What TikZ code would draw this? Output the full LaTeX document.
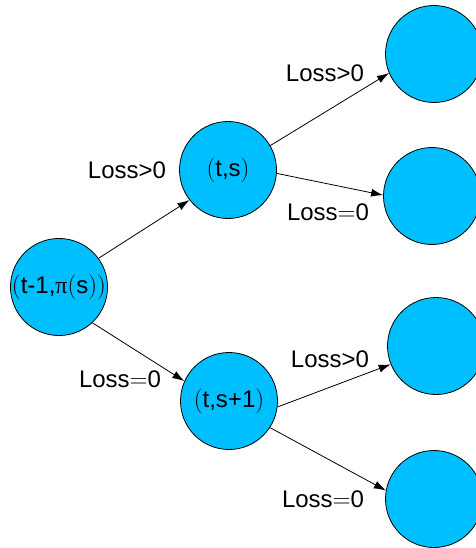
\documentclass[tikz,border=0pt]{standalone}
\usepackage{fontspec}
\setmainfont{Liberation Sans}
\newfontfamily\greekfont{Liberation Serif}
\usetikzlibrary{arrows.meta}
\definecolor{stateblue}{RGB}{0,191,255}
\tikzset{
  statenode/.style={circle,draw,line width=0.8pt,fill=stateblue,minimum size=97pt,inner sep=0pt,
    font=\fontsize{24}{28}\selectfont},
  losslabel/.style={font=\fontsize{24}{28}\selectfont,inner sep=0pt},
  branch/.style={-{Latex[length=12pt,width=8pt]},line width=0.8pt}
}
\begin{document}
\begin{tikzpicture}[x=1pt,y=-1pt]
  \useasboundingbox (0,0) rectangle (475,548);
  %states
  \node[statenode] (root) at (59,287) {$($t-1,{\greekfont π}$($s$))$};
  \node[statenode] (ts) at (228,170) {$($t,s$)$};
  \node[statenode] (tsone) at (229,401) {$($t,s+1$)$};
  %leaves
  \foreach \n/\x/\y in {a/434/54,b/432/196,c/436/346,d/434/499}
    \node[statenode] (leaf\n) at (\x,\y) {};
  %branches
  \draw[branch] (root.36) -- (ts.218);
  \draw[branch] (root.-47) -- (tsone.156);
  \draw[branch] (ts.30) -- (leafa.203);
  \draw[branch] (ts.-4) -- (leafb.179);
  \draw[branch] (tsone.-7) -- (leafc.202);
  \draw[branch] (tsone.-33) -- (leafd.170);
  %labels
  \node[losslabel] (lossroota) at (127,170) {Loss>0};
  \node[losslabel] (lossrootb) at (120,379) {Loss$=$0};
  \node[losslabel] (losstsa) at (325,73) {Loss>0};
  \node[losslabel] (losstsb) at (328,212) {Loss$=$0};
  \node[losslabel] (losstsonea) at (330,359) {Loss>0};
  \node[losslabel] (losstsoneb) at (323,499) {Loss$=$0};
\end{tikzpicture}
\end{document}
